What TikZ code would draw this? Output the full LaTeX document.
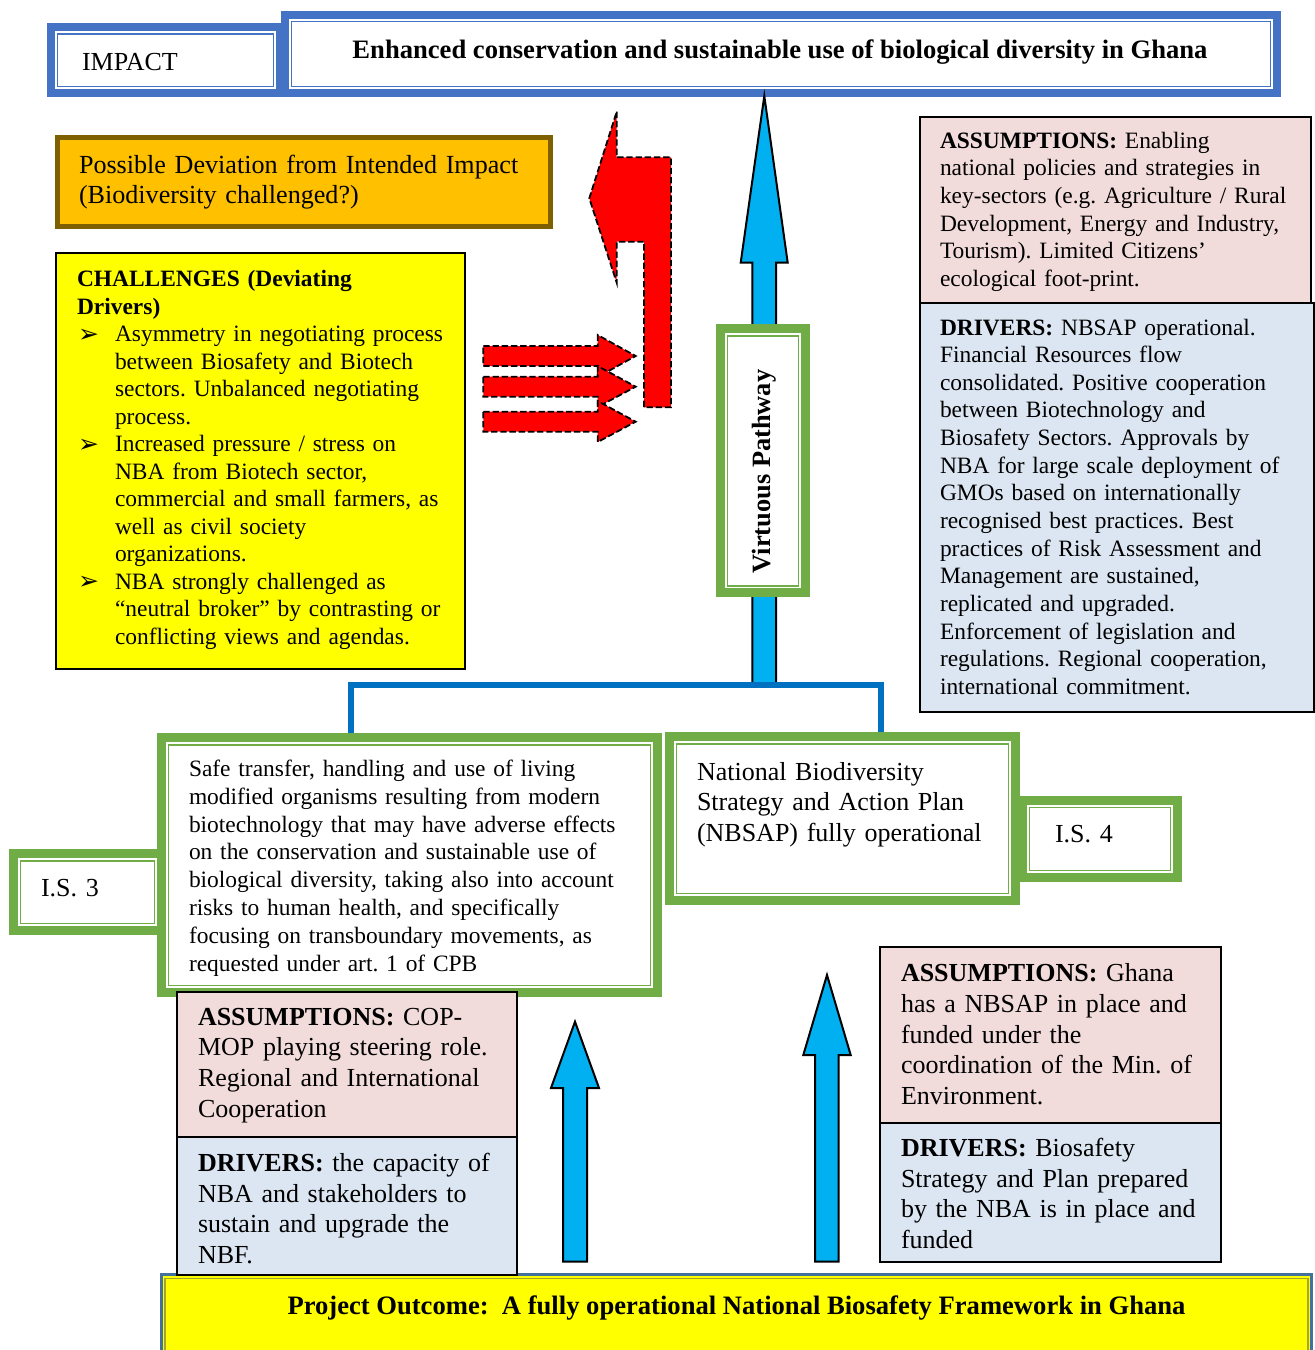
\documentclass[tikz,border=0pt]{standalone}
\usepackage{fontspec}
\setmainfont{Liberation Serif}
\newfontfamily\symf{DejaVu Sans}
\usetikzlibrary{fit,calc}
\frenchspacing

\definecolor{impblue}{HTML}{4472C4}
\definecolor{orangefill}{HTML}{FFC000}
\definecolor{orangeborder}{HTML}{7F6000}
\definecolor{arrowblue}{HTML}{00B0F0}
\definecolor{linkblue}{HTML}{0070C0}
\definecolor{grn}{HTML}{70AD47}
\definecolor{pinkbg}{HTML}{F2DCDB}
\definecolor{bluebg}{HTML}{DCE6F2}
\definecolor{outborder}{HTML}{41719C}
\definecolor{olivel}{HTML}{A5A52A}
\definecolor{yel}{HTML}{FFFF00}

\newcommand\bul{\makebox[19pt][l]{\hspace{0.5pt}\raisebox{-0.3pt}{\symf\fontsize{12.5}{10}\selectfont ➢}}}
\newcommand\ind{\hspace*{19pt}}

\tikzset{
  txt/.style={anchor=north west, inner sep=0pt, outer sep=0pt, align=left, text width=320pt},
  plainbox/.style={inner sep=0pt, outer sep=0pt},
  redarrow/.style={fill=red, draw=black, line width=0.9pt, dash pattern=on 3.2pt off 1.4pt},
  bluearrow/.style={fill=arrowblue, draw=black, line width=1pt, line join=miter},
  link/.style={draw=linkblue, line width=3pt, line join=miter},
  pinkbox/.style={plainbox, fill=pinkbg, draw=black, line width=1pt},
  lbluebox/.style={plainbox, fill=bluebg, draw=black, line width=1pt},
}

% name, colour, band, x1, y1, x2, y2
\newcommand\dblbox[7]{%
  \node[fit={(#4,#5)(#6,#7)}, plainbox, fill=#2] (#1) {};
  \fill[white] ([shift={(#3,#3)}]#1.north west) rectangle ([shift={(-#3,-#3)}]#1.south east);
  \draw[#2, line width=0.8pt] ([shift={(#3+2.4,#3+2.4)}]#1.north west) rectangle ([shift={(-#3-2.4,-#3-2.4)}]#1.south east);
}
% name, x, first baseline, size, baselineskip, text
\newcommand\tb[6]{\node[txt, font=\fontsize{#4}{#5}\selectfont] (#1) at (#2,#3-1.4*#5) {\setlength{\parindent}{0pt}\strut #6};}

\begin{document}
\begin{tikzpicture}[x=0.5pt,y=-0.5pt]
\useasboundingbox (0,0) rectangle (1315,1350);
\clip (0,0) rectangle (1315,1350);

% ---------- impact row ----------
\dblbox{impact}{impblue}{8}{47}{23.3}{284}{96.7}
\dblbox{goal}{impblue}{8}{281}{11}{1281}{96.7}
\tb{impacttxt}{82}{70}{13.0}{15.3}{IMPACT}
\node[anchor=base, inner sep=0pt, font=\bfseries\fontsize{13.3}{15.3}\selectfont] (goaltxt) at (780,58.3)
  {Enhanced conservation and sustainable use of biological diversity in Ghana};

% ---------- deviation ----------
\node[fit={(57.5,137.5)(550.5,226.8)}, plainbox, fill=orangefill, draw=orangeborder, line width=2.5pt] (dev) {};
\tb{devtxt}{79}{173.3}{13.05}{15}{Possible Deviation from Intended Impact\\(Biodiversity challenged?)}

% ---------- challenges ----------
\node[fit={(56,253.3)(465,669)}, plainbox, fill=yel, draw=black, line width=1pt] (chal) {};
\tb{chaltxt}{77}{286.7}{11.72}{13.75}{\textbf{CHALLENGES (Deviating}\\
\textbf{Drivers)}\\
\bul Asymmetry in negotiating process\\
\ind between Biosafety and Biotech\\
\ind sectors. Unbalanced negotiating\\
\ind process.\\
\bul Increased pressure / stress on\\
\ind NBA from Biotech sector,\\
\ind commercial and small farmers, as\\
\ind well as civil society\\
\ind organizations.\\
\bul NBA strongly challenged as\\
\ind “neutral broker” by contrasting or\\
\ind conflicting views and agendas.}

% ---------- red arrows ----------
\draw[redarrow] (616.7,111.7) -- (616.7,157.3) -- (671,157.3) -- (671,407.3) -- (644,407.3)
  -- (644,241.7) -- (616.7,241.7) -- (616.7,282.7) -- (589.3,198.3) -- cycle;
\foreach \ya/\yb/\yc/\yd/\ye in {346/366/335/377/356, 376.7/396.7/366/407/386.7, 411.7/431.7/401/442/421.7} {
  \draw[redarrow] (483.3,\ya) -- (597.7,\ya) -- (597.7,\yc) -- (635.7,\ye) -- (597.7,\yd)
    -- (597.7,\yb) -- (483.3,\yb) -- cycle;
}

% ---------- top right assumptions / drivers ----------
\node[fit={(920,117)(1311,303.3)}, pinkbox] (asm1) {};
\node[fit={(920,303.3)(1314,711.7)}, lbluebox] (drv1) {};
\tb{asm1txt}{940}{148.3}{11.72}{13.8}{\textbf{ASSUMPTIONS:} Enabling\\
national policies and strategies in\\
key-sectors (e.g. Agriculture / Rural\\
Development, Energy and Industry,\\
Tourism). Limited Citizens’\\
ecological foot-print.}
\tb{drv1txt}{940}{335}{11.72}{13.82}{\textbf{DRIVERS:} NBSAP operational.\\
Financial Resources flow\\
consolidated. Positive cooperation\\
between Biotechnology and\\
Biosafety Sectors. Approvals by\\
NBA for large scale deployment of\\
GMOs based on internationally\\
recognised best practices. Best\\
practices of Risk Assessment and\\
Management are sustained,\\
replicated and upgraded.\\
Enforcement of legislation and\\
regulations. Regional cooperation,\\
international commitment.}

% ---------- virtuous pathway ----------
\draw[bluearrow] (752.3,684) -- (752.3,262.7) -- (740.7,262.7) -- (764.3,96) -- (787.7,262.7)
  -- (776,262.7) -- (776,684) -- cycle;
\dblbox{vp}{grn}{9}{716}{324.3}{810}{597.3}
\node[rotate=90, inner sep=0pt, font=\bfseries\fontsize{13.2}{15}\selectfont] (vptxt) at (764,471.5) {Virtuous Pathway};

% ---------- intermediate states ----------
\dblbox{is3lab}{grn}{9}{9}{849.3}{166}{935}
\dblbox{is3}{grn}{9}{157}{733.3}{662}{996.7}
\dblbox{is4}{grn}{9}{1018}{796}{1182}{881.7}
\dblbox{nbsap}{grn}{9}{665}{732.3}{1020}{905}
\tb{is3labtxt}{41}{896.7}{13.0}{15.3}{I.S. 3}
\tb{is4txt}{1055}{842.7}{13.0}{15.3}{I.S. 4}
\tb{is3txt}{189}{776.7}{11.72}{13.88}{Safe transfer, handling and use of living\\
modified organisms resulting from modern\\
biotechnology that may have adverse effects\\
on the conservation and sustainable use of\\
biological diversity, taking also into account\\
risks to human health, and specifically\\
focusing on transboundary movements, as\\
requested under art. 1 of CPB}
\tb{nbsaptxt}{697}{780}{13.0}{15.4}{National Biodiversity\\
Strategy and Action Plan\\
(NBSAP) fully operational}

% connector from both intermediate states to the pathway
\coordinate (hubL) at ($(is3.north west)!0.384!(is3.north east)$);
\coordinate (hubR) at ($(nbsap.north west)!0.608!(nbsap.north east)$);
\draw[link] (hubL) -- (hubL |- 0,685) -- (hubR |- 0,685) -- (hubR);

% ---------- project outcome ----------
\node[fit={(161.5,1274.8)(1311.5,1365)}, plainbox, fill=yel, draw=outborder, line width=1.5pt] (outc) {};
\draw[olivel, line width=0.6pt] ([shift={(3.5,3.5)}]outc.north west) rectangle ([shift={(-3.5,-3.5)}]outc.south east);
\node[anchor=base, inner sep=0pt, font=\bfseries\fontsize{13.3}{15}\selectfont] (outtxt) at (736.5,1314.3)
  {Project Outcome:~~A fully operational National Biosafety Framework in Ghana};

% ---------- bottom left assumptions / drivers ----------
\node[fit={(177,991.7)(517,1136.7)}, pinkbox] (asm2) {};
\node[fit={(177,1136.7)(517,1275)}, lbluebox] (drv2) {};
\tb{asm2txt}{198}{1025}{13.0}{15.35}{\textbf{ASSUMPTIONS:} COP-\\
MOP playing steering role.\\
Regional and International\\
Cooperation}
\tb{drv2txt}{198}{1171.7}{13.0}{15.27}{\textbf{DRIVERS:} the capacity of\\
NBA and stakeholders to\\
sustain and upgrade the\\
NBF.}

% ---------- bottom right assumptions / drivers ----------
\node[fit={(880,946.7)(1221,1123.3)}, pinkbox] (asm3) {};
\node[fit={(880,1123.3)(1221,1261.7)}, lbluebox] (drv3) {};
\tb{asm3txt}{901}{981.7}{13.0}{15.33}{\textbf{ASSUMPTIONS:} Ghana\\
has a NBSAP in place and\\
funded under the\\
coordination of the Min. of\\
Environment.}
\tb{drv3txt}{901}{1156.7}{13.0}{15.27}{\textbf{DRIVERS:} Biosafety\\
Strategy and Plan prepared\\
by the NBA is in place and\\
funded}

% ---------- small up arrows ----------
\draw[bluearrow] (563,1261.7) -- (563,1088) -- (551,1088) -- (575,1021.7) -- (599,1088)
  -- (587,1088) -- (587,1261.7) -- cycle;
\draw[bluearrow] (815,1261.7) -- (815,1055) -- (803.3,1055) -- (827,975) -- (850.7,1055)
  -- (838.7,1055) -- (838.7,1261.7) -- cycle;

\end{tikzpicture}
\end{document}
